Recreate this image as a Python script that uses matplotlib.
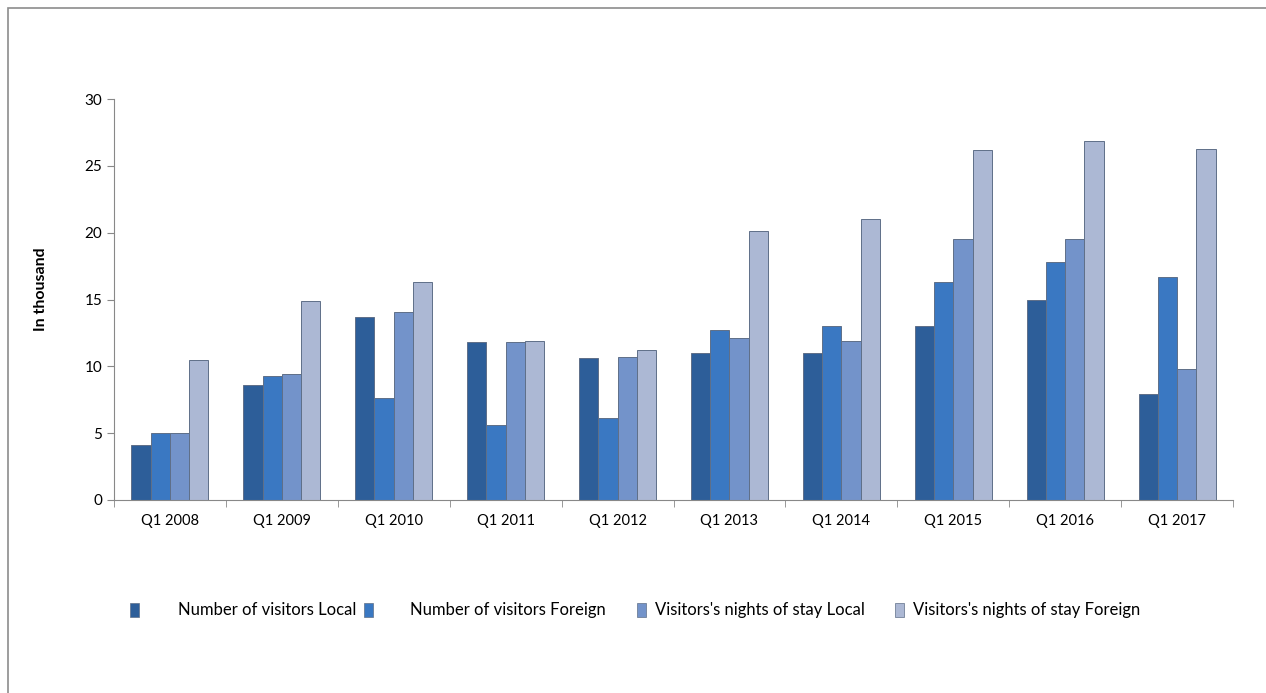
import matplotlib.pyplot as plt
import numpy as np
from matplotlib.patches import Rectangle

plt.rcParams['font.family'] = ['Lato', 'DejaVu Sans']

quarters = ["Q1 2008", "Q1 2009", "Q1 2010", "Q1 2011", "Q1 2012",
            "Q1 2013", "Q1 2014", "Q1 2015", "Q1 2016", "Q1 2017"]
visitors_local = [4.1, 8.6, 13.7, 11.8, 10.6, 11.0, 11.0, 13.0, 15.0, 7.9]
visitors_foreign = [5.0, 9.3, 7.6, 5.6, 6.1, 12.7, 13.0, 16.3, 17.8, 16.7]
nights_local = [5.0, 9.4, 14.1, 11.8, 10.7, 12.1, 11.9, 19.5, 19.5, 9.8]
nights_foreign = [10.5, 14.9, 16.3, 11.9, 11.2, 20.1, 21.0, 26.2, 26.9, 26.3]

series = [
    ("Number of visitors Local", visitors_local, "#2d5e99"),
    ("Number of visitors Foreign", visitors_foreign, "#3a78c2"),
    ("Visitors's nights of stay Local", nights_local, "#7393ca"),
    ("Visitors's nights of stay Foreign", nights_foreign, "#acb8d4"),
]

W, H = 1266, 693
fig = plt.figure(figsize=(W / 100, H / 100), dpi=100)
ax = fig.add_axes([0.090, 0.2785, 0.884, 0.5785])

# cadre gris autour du graphique
fig.patches.append(Rectangle((8 / W, -0.1), 1.2, 1 - 8 / H + 0.1,
                             transform=fig.transFigure, fill=False,
                             edgecolor="#8c8c8c", linewidth=1.2))

x = np.arange(len(quarters))
w = 0.172
for i, (name, vals, col) in enumerate(series):
    ax.bar(x + (i - 1.5) * w, vals, width=w, color=col,
           edgecolor="#5f6f88", linewidth=0.7, label=name)

ax.set_xlim(-0.5, len(quarters) - 0.5)
ax.set_ylim(0, 30)
ax.set_yticks(range(0, 31, 5))
ax.set_xticks(x)
ax.set_xticklabels(quarters, fontsize=10.5)
ax.set_xticks(np.arange(-0.5, len(quarters)), minor=True)
ax.tick_params(axis='x', which='major', length=0, pad=10)
ax.tick_params(axis='x', which='minor', length=5, color="#888888")
ax.tick_params(axis='y', length=5, color="#888888", labelsize=11)

for s in ["top", "right"]:
    ax.spines[s].set_visible(False)
ax.spines["left"].set_color("#888888")
ax.spines["bottom"].set_color("#888888")

fig.text(0.032, 0.582, "In thousand", rotation=90, fontsize=11.5,
         fontweight="bold", ha="center", va="center")

# légende placée à la main (espacements irréguliers comme dans Excel)
marker_x = [130, 364, 637, 895]
text_x = [178, 410, 655, 913]
ly = 610
for (name, vals, col), mx, tx in zip(series, marker_x, text_x):
    fig.patches.append(Rectangle((mx / W, 1 - (ly + 7) / H), 9 / W, 14 / H,
                                 transform=fig.transFigure, facecolor=col,
                                 edgecolor="#5f6f88", linewidth=0.5))
    fig.text(tx / W, 1 - ly / H, name, fontsize=12, ha="left", va="center")

plt.savefig("out.png", dpi=100)
